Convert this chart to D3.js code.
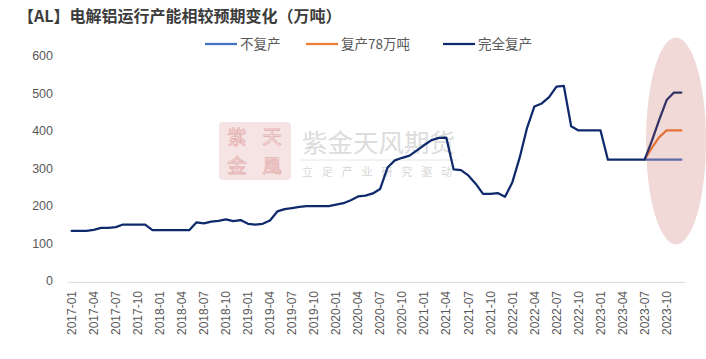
<!DOCTYPE html>
<html><head><meta charset="utf-8">
<script src="https://cdn.jsdelivr.net/npm/d3@7"></script>
<style>body{margin:0;background:#fff}svg{display:block}</style>
</head><body><svg id="c" width="706" height="359"></svg>
<script>
const title = "【AL】电解铝运行产能相较预期变化（万吨）";
const years = ["2017","2018","2019","2020","2021","2022","2023"];
const monthNums = ["01","02","03","04","05","06","07","08","09","10","11","12"];
const categories = years.flatMap(y => monthNums.map(m => y + "-" + m));
// 2017-01 .. 2023-07 (shared history)
const history = [137,137,137,140,145,145,147,154,154,154,154,139,
                 139,139,139,139,139,160,157,162,164,168,163,166,
                 156,154,156,165,189,195,198,201,203,203,203,203,
                 207,211,219,229,231,237,249,306,325,332,338,352,
                 366,379,385,386,301,299,285,263,236,236,238,228,
                 267,333,412,469,477,494,522,524,416,405,405,405,
                 405,327,327,327,327,327,327];
// 2023-07 .. 2023-12 scenarios
const noRestart   = [327,327,327,327,327,327];
const restart78   = [327,359,387,405,405,405];
const fullRestart = [327,378,434,486,506,506];
const seriesNames = ["不复产","复产78万吨","完全复产"];
const seriesColors = ["#4472C4","#ED7D31","#0F2A6C"];
const yTicks = [0,100,200,300,400,500,600];
const watermarkMain = "紫金天风期货";
const watermarkSub = "立 足 产 业   研 究 驱 动";
const sealChars = ["紫","天","金","風"];

const tailStart = history.length - 1;
function buildSeries(tail, withHistory) {
  return categories.map((c, i) => ({
    c,
    v: i < tailStart ? (withHistory ? history[i] : null) : tail[i - tailStart]
  }));
}
const series = [
  {name: seriesNames[0], color: seriesColors[0], data: buildSeries(noRestart, false)},
  {name: seriesNames[1], color: seriesColors[1], data: buildSeries(restart78, false)},
  {name: seriesNames[2], color: seriesColors[2], data: buildSeries(fullRestart, true)}
];

const svg = d3.select("#c");
svg.append("rect").attr("width",706).attr("height",359).attr("fill","#fff");

const x = d3.scaleBand().domain(categories).range([68, 685]).padding(0);
const y = d3.scaleLinear().domain([0, 600]).range([282.3, 57.3]);
const cx = c => x(c) + x.bandwidth() / 2;

// watermark
const wm = svg.append("g");
wm.append("rect").attr("x",219).attr("y",122).attr("width",72).attr("height",58).attr("rx",4)
  .attr("fill","#f6e4e4");
const sealPos = [[237,144],[272,144],[237,173],[272,173]];
sealChars.forEach((t, i) => {
  wm.append("text").attr("x",sealPos[i][0]).attr("y",sealPos[i][1]).attr("text-anchor","middle")
    .attr("font-family","Noto Sans CJK SC").attr("font-size",19)
    .attr("fill","#fdf6f6").attr("stroke","#e6b4b4").attr("stroke-width",0.9).text(t);
});
wm.append("text").attr("x",302).attr("y",152).attr("font-family","Noto Sans CJK SC")
  .attr("font-size",25.5).attr("fill","#dcdcdc").text(watermarkMain);
wm.append("line").attr("x1",300).attr("x2",458).attr("y1",160).attr("y2",160)
  .attr("stroke","#e6e6e6").attr("stroke-width",1);
wm.append("text").attr("x",302).attr("y",176).attr("font-family","Noto Sans CJK SC")
  .attr("font-size",11).attr("fill","#d6d6d6").attr("letter-spacing",3.2).text(watermarkSub);

// title
svg.append("text").attr("x",18).attr("y",22).attr("font-family","Noto Sans CJK SC")
  .attr("font-weight","bold").attr("font-size",16).attr("fill","#3c3c3c").text(title);

// y axis labels
svg.append("g").selectAll("text").data(yTicks).join("text")
  .attr("x",53).attr("y",d => y(d) - 1.5).attr("dy","0.35em").attr("text-anchor","end")
  .attr("font-family","Liberation Sans, Arial").attr("font-size",12.5).attr("fill","#595959")
  .text(d => d);

// x axis line
svg.append("line").attr("x1",68).attr("x2",685).attr("y1",y(0)).attr("y2",y(0))
  .attr("stroke","#d9d9d9").attr("stroke-width",1);

// x labels every 3 months
svg.append("g").selectAll("text").data(categories.filter((c,i) => i % 3 === 0)).join("text")
  .attr("transform", d => `translate(${cx(d)},291) rotate(-90)`)
  .attr("text-anchor","end").attr("dy","0.35em")
  .attr("font-family","Liberation Sans, Arial").attr("font-size",12).attr("fill","#595959")
  .text(d => d);

// lines
const line = d3.line().defined(d => d.v != null).x(d => cx(d.c)).y(d => y(d.v));
svg.append("g").selectAll("path").data(series).join("path")
  .attr("d", s => line(s.data)).attr("fill","none").attr("stroke", s => s.color)
  .attr("stroke-width",2.25).attr("stroke-linejoin","round").attr("stroke-linecap","round");

// highlight ellipse (drawn over lines)
svg.append("ellipse").attr("cx",676).attr("cy",141).attr("rx",30).attr("ry",103.5)
  .attr("fill","#C0504D").attr("opacity",0.22);

// legend
const legendX = [205, 306, 443];
const lg = svg.append("g").selectAll("g").data(series).join("g")
  .attr("transform",(d,i) => `translate(${legendX[i]},44)`);
lg.append("line").attr("x1",0).attr("x2",32).attr("y1",0).attr("y2",0)
  .attr("stroke", d => d.color).attr("stroke-width",2.25);
lg.append("text").attr("x",35).attr("dy","0.35em").attr("font-family","Noto Sans CJK SC")
  .attr("font-size",13.5).attr("fill","#595959").text(d => d.name);
</script></body></html>
